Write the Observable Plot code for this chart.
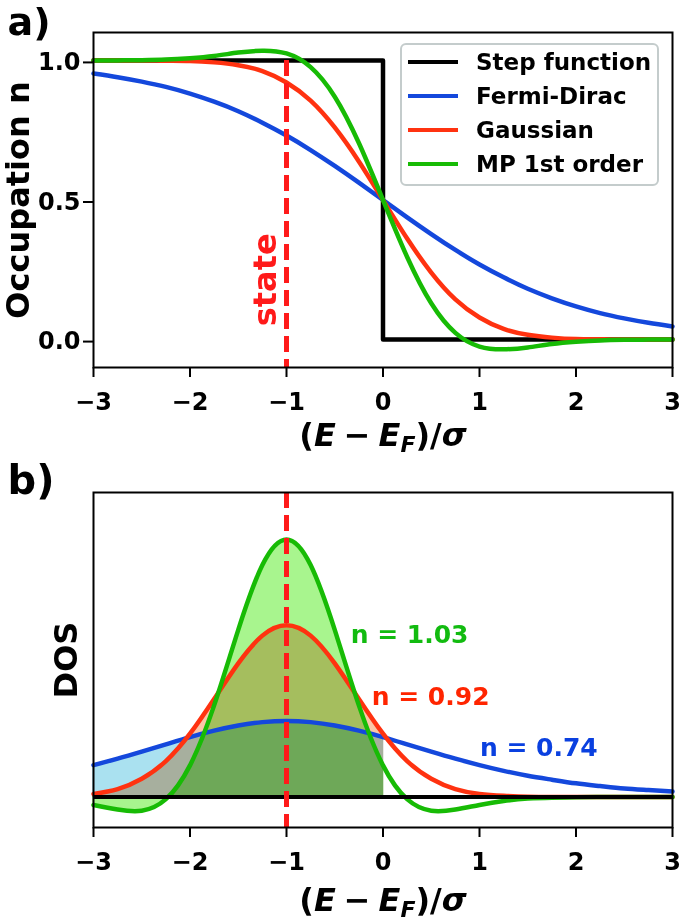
<!DOCTYPE html>
<html><head><meta charset="utf-8">
<script src="https://cdn.jsdelivr.net/npm/d3@7"></script>
<script src="https://cdn.jsdelivr.net/npm/@observablehq/plot@0.6"></script>
<style>
html,body{margin:0;padding:0;background:#fff;}
#wrap{position:relative;width:680px;height:922px;overflow:hidden;font-family:"DejaVu Sans",sans-serif;font-weight:bold;}
#wrap svg{position:absolute;left:0;}
.legend{position:absolute;left:400px;top:43px;width:255px;height:139px;border:2px solid #c4cccc;border-radius:6px;background:#fff;}
.legend .sw{position:absolute;left:6px;width:50px;height:4px;}
.legend .lt{position:absolute;left:74px;font-size:23px;line-height:23px;white-space:nowrap;color:#000;}
</style>
</head><body>
<div id="wrap"></div>
<script>
// ---- data ----
const xs = [-3,-2.75,-2.5,-2.25,-2,-1.75,-1.5,-1.25,-1,-0.75,-0.5,-0.25,0,0.25,0.5,0.75,1,1.25,1.5,1.75,2,2.25,2.5,2.75,3];
const stepX = [-3, 0, 0, 3];
const stepN = [1, 1, 0, 0];
const nFermi = [0.953,0.940,0.924,0.905,0.881,0.852,0.818,0.777,0.731,0.679,0.622,0.562,0.500,0.438,0.378,0.321,0.269,0.223,0.182,0.148,0.119,0.095,0.076,0.060,0.047];
const nGauss = [1.000,1.000,1.000,0.999,0.998,0.993,0.983,0.962,0.921,0.856,0.760,0.638,0.500,0.362,0.240,0.144,0.079,0.038,0.017,0.007,0.002,0.001,0.000,0.000,0.000];
const nMP = [1.000,1.000,1.001,1.003,1.008,1.016,1.028,1.035,1.025,0.976,0.870,0.704,0.500,0.296,0.130,0.024,-0.025,-0.035,-0.028,-0.016,-0.008,-0.003,-0.001,0.000,0.000];
const dosFermi = [0.105,0.126,0.149,0.173,0.197,0.218,0.235,0.246,0.250,0.246,0.235,0.218,0.197,0.173,0.149,0.126,0.105,0.086,0.070,0.057,0.045,0.036,0.028,0.023,0.018];
const dosGauss = [0.010,0.026,0.060,0.118,0.208,0.322,0.439,0.530,0.564,0.530,0.439,0.322,0.208,0.118,0.060,0.026,0.010,0.004,0.001,0.000,0.000,0.000,0.000,0.000,0.000];
const dosMP = [-0.026,-0.041,-0.045,-0.007,0.104,0.301,0.549,0.762,0.846,0.762,0.549,0.301,0.104,-0.007,-0.045,-0.041,-0.026,-0.013,-0.005,-0.002,-0.001,0.000,0.000,0.000,0.000];
const seriesNames = ["Step function","Fermi-Dirac","Gaussian","MP 1st order"];
const occLabels = ["n = 1.03","n = 0.92","n = 0.74"];
const xTicks = [-3,-2,-1,0,1,2,3];
const yTicks = [0, 0.5, 1.0];
const stateE = -1;

// ---- styles ----
const C = {step:"#000000", fermi:"#1448dc", gauss:"#ff3210", mp:"#17bb05", dash:"#ff1a1a"};
const seriesColors = [C.step, C.fermi, C.gauss, C.mp];
const FILL = {fermi:"#aae1f0", gauss:"#fac6a8", mp:"#a8f58e"};

const tabA = xs.map((x,i)=>({x, fd:nFermi[i], g:nGauss[i], mp:nMP[i]}));
const tabStep = stepX.map((x,i)=>({x, n:stepN[i]}));
const tabB = xs.map((x,i)=>({x, fd:dosFermi[i], g:dosGauss[i], mp:dosMP[i]}));
const occ = tabB.filter(d => d.x <= 0);

const font = {fontFamily:"DejaVu Sans", fontSize:"24px", fontWeight:"bold", background:"white", overflow:"visible"};
const curve = "natural";
const LW = 4.5;
const intFmt = d3.format("d");

const wrap = document.getElementById("wrap");

// ---- panel a ----
const pa = Plot.plot({
  width:680, height:460, marginTop:32, marginBottom:93, marginLeft:93, marginRight:8,
  style: font,
  x:{domain:[-3,3]},
  y:{domain:[-0.1,1.1]},
  marks:[
    Plot.line(tabStep,{x:"x", y:"n", stroke:C.step, strokeWidth:LW}),
    Plot.line(tabA,{x:"x", y:"fd", stroke:C.fermi, strokeWidth:LW, curve}),
    Plot.line(tabA,{x:"x", y:"g", stroke:C.gauss, strokeWidth:LW, curve}),
    Plot.line(tabA,{x:"x", y:"mp", stroke:C.mp, strokeWidth:LW, curve}),
    Plot.ruleX([stateE],{x:d=>d, y1:1.0, y2:-0.1, stroke:C.dash, strokeWidth:5, strokeDasharray:"16,7"}),
    Plot.text(["state"],{x:stateE, y:0.214, text:d=>d, rotate:-90, dx:-21, fill:C.dash, fontSize:32, fontWeight:"bold"}),
    Plot.axisX({ticks:xTicks, tickSize:10, tickPadding:15, strokeWidth:2, fontSize:24, tickFormat:intFmt, label:null}),
    Plot.axisY({ticks:yTicks, tickSize:10, tickPadding:3, strokeWidth:2, fontSize:24, tickFormat:d3.format(".1f"), dy:2, label:null}),
    Plot.text(["Occupation n"],{frameAnchor:"left", text:d=>d, rotate:-90, dx:-75, textAnchor:"middle", fontSize:32, fontWeight:"bold"}),
    Plot.text(["a)"],{frameAnchor:"top-left", text:d=>d, dx:-86, dy:2, lineAnchor:"bottom", textAnchor:"start", fontSize:38, fontWeight:"bold"}),
    Plot.frame({stroke:"black", strokeWidth:2})
  ]
});
pa.style.top = "0px";
wrap.appendChild(pa);

// ---- panel b ----
const pb = Plot.plot({
  width:680, height:462, marginTop:32, marginBottom:95, marginLeft:93, marginRight:8,
  style: font,
  x:{domain:[-3,3]},
  y:{domain:[-0.1,1.0], axis:null},
  marks:[
    Plot.areaY(occ,{x:"x", y1:0, y2:"fd", fill:FILL.fermi, stroke:FILL.fermi, strokeWidth:1.5, mixBlendMode:"multiply", curve}),
    Plot.areaY(occ,{x:"x", y1:0, y2:"g", fill:FILL.gauss, stroke:FILL.gauss, strokeWidth:1.5, mixBlendMode:"multiply", curve}),
    Plot.areaY(occ,{x:"x", y1:0, y2:"mp", fill:FILL.mp, stroke:FILL.mp, strokeWidth:1.5, mixBlendMode:"multiply", curve}),
    Plot.line(tabB,{x:"x", y:"fd", stroke:C.fermi, strokeWidth:LW, curve}),
    Plot.line(tabB,{x:"x", y:"g", stroke:C.gauss, strokeWidth:LW, curve}),
    Plot.line(tabB,{x:"x", y:"mp", stroke:C.mp, strokeWidth:LW, curve}),
    Plot.ruleY([0],{stroke:"black", strokeWidth:4}),
    Plot.ruleX([stateE],{x:d=>d, y1:1.0, y2:-0.1, stroke:C.dash, strokeWidth:5, strokeDasharray:"16,7"}),
    Plot.text([occLabels[0]],{x:-0.335, y:0.532, text:d=>d, textAnchor:"start", fill:"#12bb10", fontSize:25, fontWeight:"bold"}),
    Plot.text([occLabels[1]],{x:-0.117, y:0.33, text:d=>d, textAnchor:"start", fill:"#ff2500", fontSize:25, fontWeight:"bold"}),
    Plot.text([occLabels[2]],{x:1.004, y:0.161, text:d=>d, textAnchor:"start", fill:"#0a40e0", fontSize:25, fontWeight:"bold"}),
    Plot.axisX({ticks:xTicks, tickSize:10, tickPadding:15, strokeWidth:2, fontSize:24, tickFormat:intFmt, label:null}),
    Plot.text(["DOS"],{frameAnchor:"left", text:d=>d, rotate:-90, dx:-27, textAnchor:"middle", fontSize:32, fontWeight:"bold"}),
    Plot.text(["b)"],{frameAnchor:"top-left", text:d=>d, dx:-86, dy:1, lineAnchor:"bottom", textAnchor:"start", fontSize:40, fontWeight:"bold"}),
    Plot.frame({stroke:"black", strokeWidth:2})
  ]
});
pb.style.top = "460px";
wrap.appendChild(pb);

// x-axis titles with italic symbols and subscript
function xTitle(svg, baseline){
  const t = d3.select(svg).append("text")
    .attr("x", 383).attr("y", baseline).attr("text-anchor","middle")
    .attr("font-family","DejaVu Sans").attr("font-weight","bold").attr("font-size", 32);
  t.append("tspan").text("(");
  t.append("tspan").attr("font-style","italic").text("E");
  t.append("tspan").attr("dx",8).text("\u2212");
  t.append("tspan").attr("dx",8).attr("font-style","italic").text("E");
  t.append("tspan").attr("font-style","italic").attr("font-size",22).attr("dy",6).text("F");
  t.append("tspan").attr("dy",-6).text(")/");
  t.append("tspan").attr("font-style","italic").text("\u03c3");
}
xTitle(pa, 446);
xTitle(pb, 451);

// legend
const lg = document.createElement("div");
lg.className = "legend";
const rowsY = [62, 96.3, 129.7, 164];
seriesNames.forEach((name,i)=>{
  const sw = document.createElement("div");
  sw.className = "sw"; sw.style.background = seriesColors[i];
  sw.style.top = (rowsY[i]-45-2)+"px";
  const lt = document.createElement("div");
  lt.className = "lt"; lt.textContent = name;
  lt.style.top = (rowsY[i]-45-0.48*23)+"px";
  lg.appendChild(sw); lg.appendChild(lt);
});
wrap.appendChild(lg);
</script>
</body></html>
